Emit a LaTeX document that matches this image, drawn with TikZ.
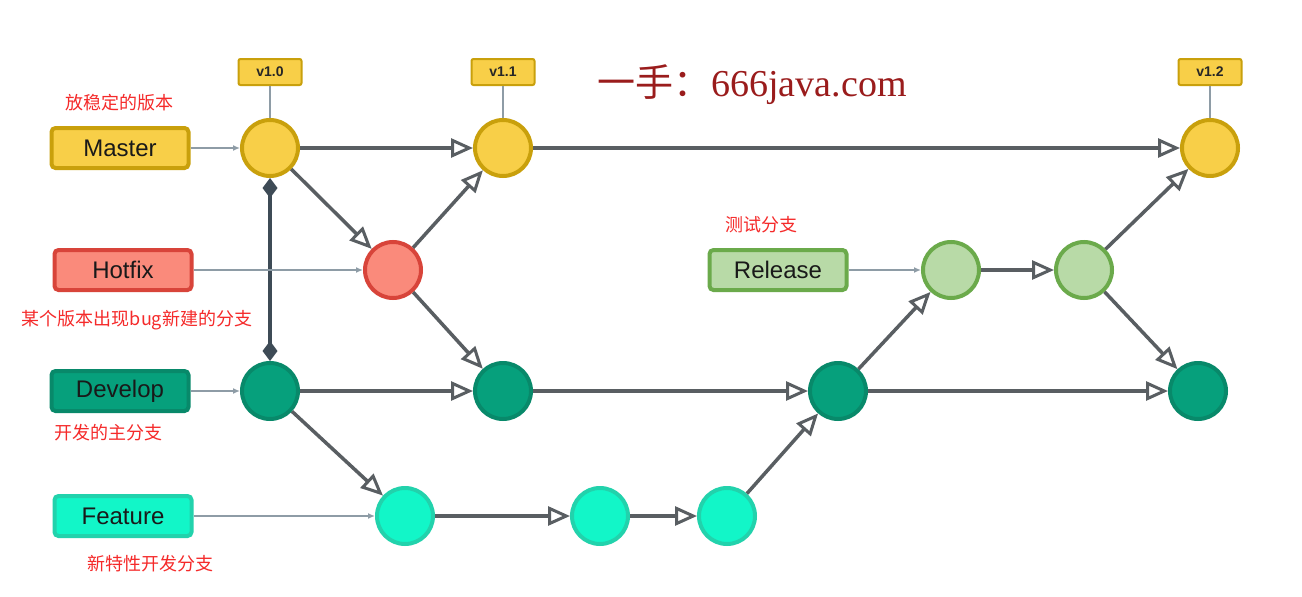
\documentclass[tikz,border=0pt]{standalone}
\usepackage{fontspec}
\setmainfont{Liberation Sans}
\newfontfamily\cjk{Noto Sans CJK SC}
\newfontfamily\serifen{Liberation Serif}
\usetikzlibrary{arrows.meta}
\definecolor{mfill}{HTML}{F8CF48}
\definecolor{mdraw}{HTML}{C9A00C}
\definecolor{hfill}{HTML}{FA8A7B}
\definecolor{hdraw}{HTML}{D8443A}
\definecolor{dfill}{HTML}{06A07C}
\definecolor{ddraw}{HTML}{08896A}
\definecolor{ffill}{HTML}{12F6C8}
\definecolor{fdraw}{HTML}{22D2AC}
\definecolor{rfill}{HTML}{B8DAA7}
\definecolor{rdraw}{HTML}{6BAA4B}
\definecolor{edge}{HTML}{595E62}
\definecolor{thin}{HTML}{8E9CA6}
\definecolor{slate}{HTML}{3E4B56}
\definecolor{anno}{HTML}{F52A2A}
\definecolor{title}{HTML}{9A1C1C}
\tikzset{
  commit/.style={circle, minimum size=56pt, inner sep=0pt, line width=4pt},
  branchbox/.style={rectangle, rounded corners=4pt, line width=4pt, minimum width=137pt, minimum height=40pt, inner sep=0pt, text=black!90, font=\fontsize{24}{28}\selectfont},
  tagbox/.style={rectangle, rounded corners=2pt, line width=2pt, fill=mfill, draw=mdraw, minimum width=63pt, minimum height=26pt, inner sep=0pt, text=black!85, font=\fontsize{14}{16}\selectfont\bfseries},
  ms/.style={fill=mfill, draw=mdraw},
  hs/.style={fill=hfill, draw=hdraw},
  ds/.style={fill=dfill, draw=ddraw},
  fs/.style={fill=ffill, draw=fdraw},
  rs/.style={fill=rfill, draw=rdraw},
  flow/.style={draw=edge, line width=3.5pt, -{Triangle[open, fill=white, length=22pt, width=19pt, line width=3pt]}},
  pointer/.style={draw=thin, line width=1.3pt, -{Latex[length=7pt, width=6pt]}},
  tagline/.style={draw=thin, line width=1.3pt},
  note/.style={text=anno, font=\cjk\fontsize{18}{21}\selectfont, inner sep=0pt}
}
\begin{document}
\begin{tikzpicture}[x=1pt, y=-1pt]
\useasboundingbox (0,0) rectangle (1302,597);
\fill[white] (0,0) rectangle (1302,597);

% commits
\node[commit, ms] (M1) at (270,148) {};
\node[commit, ms] (M2) at (503,148) {};
\node[commit, ms] (M3) at (1210,148) {};
\node[commit, hs] (H1) at (393,270) {};
\node[commit, rs] (R1) at (951,270) {};
\node[commit, rs] (R2) at (1084,270) {};
\node[commit, ds] (D1) at (270,391) {};
\node[commit, ds] (D2) at (503,391) {};
\node[commit, ds] (D3) at (838,391) {};
\node[commit, ds] (D4) at (1198,391) {};
\node[commit, fs] (F1) at (405,516) {};
\node[commit, fs] (F2) at (600,516) {};
\node[commit, fs] (F3) at (727,516) {};

% branch labels
\node[branchbox, ms] (Lm) at (120,148) {Master};
\node[branchbox, hs] (Lh) at (123,270) {Hotfix};
\node[branchbox, ds] (Ld) at (120,391) {Develop};
\node[branchbox, fs] (Lf) at (123,516) {Feature};
\node[branchbox, rs] (Lr) at (778,270) {Release};

% tags
\node[tagbox] (T0) at (270,72) {v1.0};
\node[tagbox] (T1) at (503,72) {v1.1};
\node[tagbox] (T2) at (1210,72) {v1.2};

% vertical link
\draw[slate, line width=4pt, {Diamond[length=20pt, width=15pt]}-{Diamond[length=20pt, width=15pt]}] (M1) -- (D1);

% pointers
\draw[pointer] (Lm) -- (M1);
\draw[pointer] (Lh) -- (H1);
\draw[pointer] (Ld) -- (D1);
\draw[pointer] (Lf) -- (F1);
\draw[pointer] (Lr) -- (R1);
\draw[tagline] (T0) -- (M1);
\draw[tagline] (T1) -- (M2);
\draw[tagline] (T2) -- (M3);

% flows
\draw[flow] (M1) -- (M2);
\draw[flow] (M2) -- (M3);
\draw[flow] (M1) -- (H1);
\draw[flow] (H1) -- (M2);
\draw[flow] (H1) -- (D2);
\draw[flow] (D1) -- (D2);
\draw[flow] (D2) -- (D3);
\draw[flow] (D1) -- (F1);
\draw[flow] (F1) -- (F2);
\draw[flow] (F2) -- (F3);
\draw[flow] (F3) -- (D3);
\draw[flow] (D3) -- (R1);
\draw[flow] (R1) -- (R2);
\draw[flow] (R2) -- (M3);
\draw[flow] (R2) -- (D4);
\draw[flow] (D3) -- (D4);

% notes
\node[note] (n1) at (119,103) {放稳定的版本};
\node[note] (n2) at (137,320) {某个版本出现bug新建的分支};
\node[note] (n3) at (108,433) {开发的主分支};
\node[note] (n4) at (150,564) {新特性开发分支};
\node[note] (n5) at (761,225) {测试分支};

% title
\node[text=title, inner sep=0pt] (title) at (752,85) {\fontsize{38}{44}\selectfont{\cjk 一手：}{\serifen 666java.com}};
\end{tikzpicture}
\end{document}
